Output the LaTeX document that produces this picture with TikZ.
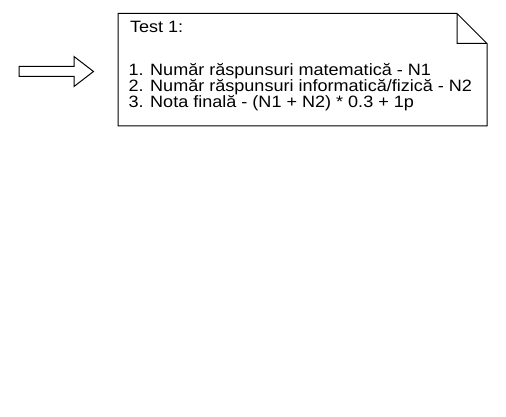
\documentclass[tikz,border=0pt]{standalone}
\usepackage{fontspec}
\setmainfont{Liberation Sans}[FakeStretch=1.1]
\begin{document}
\begin{tikzpicture}[x=1pt,y=-1pt,line width=1pt,
  notetext/.style={anchor=base west,inner sep=0pt,font=\fontsize{16.4}{16}\selectfont}]
\useasboundingbox (0,0) rectangle (506,417);

% arrow
\draw (19,66.5) -- (74,66.5) -- (74,56.5) -- (93.5,71.5)
  -- (74,86.5) -- (74,76.5) -- (19,76.5) -- cycle;

% note with folded corner
\draw (118,13.5) -- (457,13.5) -- (487,43.5) -- (487,126)
  -- (118,126) -- cycle
   (457,13.5) -- (457,43.5) -- (487,43.5);

\node[notetext] (title) at (129.5,33) {Test 1:};
\node[notetext] (n1) at (128,76) {1. Număr răspunsuri matematică - N1};
\node[notetext] (n2) at (128,91.7) {2. Număr răspunsuri informatică/fizică - N2};
\node[notetext] (nota) at (128,107.3) {3. Nota finală - (N1 + N2) * 0.3 + 1p};

\end{tikzpicture}
\end{document}
